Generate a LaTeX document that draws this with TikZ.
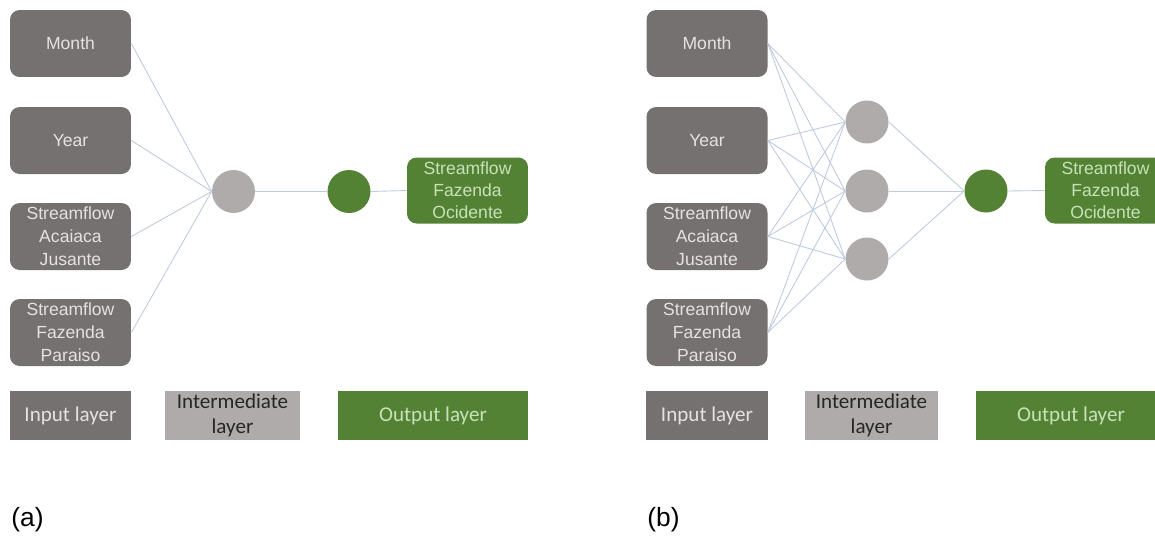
\documentclass[tikz,border=0pt]{standalone}
\usepackage{fontspec}
\setmainfont{Liberation Sans}
\newfontfamily\calibri{Carlito}
\definecolor{ingray}{RGB}{118,113,113}
\definecolor{midgray}{RGB}{175,171,171}
\definecolor{outgreen}{RGB}{84,130,53}
\definecolor{intext}{RGB}{228,226,226}
\definecolor{gtext}{RGB}{200,226,184}
\definecolor{linkc}{RGB}{190,203,222}
\begin{document}
\begin{tikzpicture}[x=0.02cm,y=-0.02cm,
  inbox/.style={rounded corners=5.5pt, fill=ingray, text=intext, minimum width=2.42cm, minimum height=1.34cm, inner sep=0pt, align=center, font=\fontsize{10}{13}\selectfont},
  outbox/.style={rounded corners=5.5pt, fill=outgreen, text=gtext, minimum width=2.42cm, minimum height=1.32cm, inner sep=0pt, align=center, font=\fontsize{10}{12.5}\selectfont},
  hid/.style={circle, fill=midgray, minimum size=0.86cm, inner sep=0pt},
  outc/.style={circle, fill=outgreen, minimum size=0.86cm, inner sep=0pt},
  legin/.style={rectangle, fill=ingray, text=intext, minimum height=0.98cm, inner sep=0pt, align=center, font=\calibri\fontsize{12}{14}\selectfont},
  legmid/.style={rectangle, fill=midgray, text=black!85, minimum height=0.98cm, inner sep=0pt, align=center, font=\calibri\fontsize{12}{14}\selectfont},
  legout/.style={rectangle, fill=outgreen, text=gtext, minimum height=0.98cm, inner sep=0pt, align=center, font=\calibri\fontsize{12}{14}\selectfont},
  link/.style={draw=linkc, line width=0.5pt},
  captxt/.style={font=\fontsize{15}{18}\selectfont, anchor=west, inner sep=0pt}
]
\useasboundingbox (0,0) rectangle (1155,535);
\clip (0,0) rectangle (1155,535);

% ---------- panel (a)
\node[inbox] (am) at (70.5,43.5) {Month};
\node[inbox] (ay) at (70.5,140.5) {Year};
\node[inbox] (aa) at (70.5,236.5) {Streamflow\\Acaiaca\\Jusante};
\node[inbox] (ap) at (70.5,332.5) {Streamflow\\Fazenda\\Paraiso};
\node[hid] (ah) at (233.5,191.5) {};
\node[outc] (ao) at (349,191.5) {};
\node[outbox] (ab) at (467.5,190.5) {Streamflow\\Fazenda\\Ocidente};
\foreach \n in {am,ay,aa,ap} \draw[link] (\n.east) -- (ah.west);
\draw[link] (ah.east) -- (ao.west);
\draw[link] (ao.east) -- (ab.west);
\node[legin, minimum width=2.42cm] (ali) at (70.5,415.5) {Input layer};
\node[legmid, minimum width=2.70cm] (alm) at (232.5,415.5) {Intermediate\\layer};
\node[legout, minimum width=3.80cm] (alo) at (433,415.5) {Output layer};
\node[captxt] (capa) at (11,520) {(a)};

% ---------- panel (b)
\node[inbox] (bm) at (707,43.5) {Month};
\node[inbox] (by) at (707,140.5) {Year};
\node[inbox] (ba) at (707,236.5) {Streamflow\\Acaiaca\\Jusante};
\node[inbox] (bp) at (707,332.5) {Streamflow\\Fazenda\\Paraiso};
\node[hid] (bh1) at (867,122) {};
\node[hid] (bh2) at (867,191) {};
\node[hid] (bh3) at (867,259) {};
\node[outc] (bo) at (986,191) {};
\node[outbox] (bb) at (1105.5,190.5) {Streamflow\\Fazenda\\Ocidente};
\foreach \n in {bm,by,ba,bp}
  \foreach \h in {bh1,bh2,bh3}
    \draw[link] (\n.east) -- (\h.west);
\foreach \h in {bh1,bh2,bh3} \draw[link] (\h.east) -- (bo.west);
\draw[link] (bo.east) -- (bb.west);
\node[legin, minimum width=2.44cm] (bli) at (707,415.5) {Input layer};
\node[legmid, minimum width=2.66cm] (blm) at (871.5,415.5) {Intermediate\\layer};
\node[legout, minimum width=3.80cm] (blo) at (1071,415.5) {Output layer};
\node[captxt] (capb) at (647,520) {(b)};
\end{tikzpicture}
\end{document}
